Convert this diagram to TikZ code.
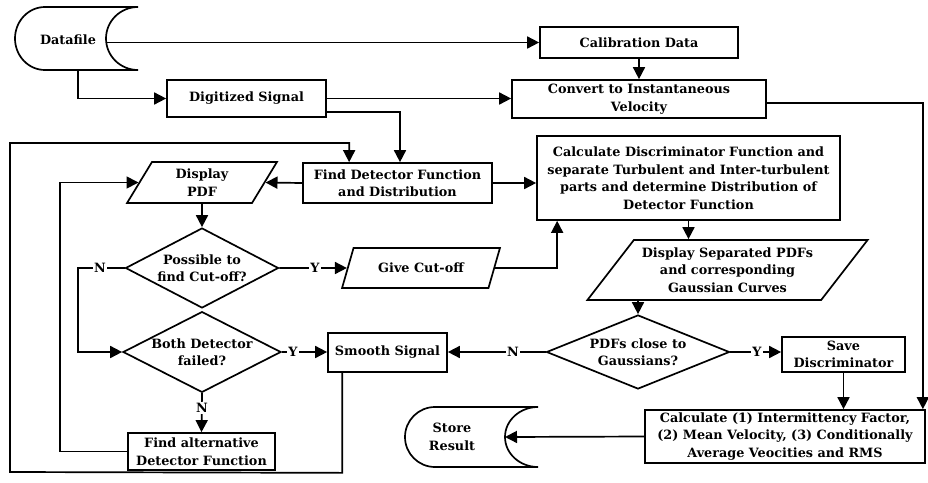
\documentclass[tikz,border=0pt]{standalone}
\usepackage{fontspec}
\setmainfont{DejaVu Serif}
\usetikzlibrary{shapes.geometric,arrows.meta,calc}
\begin{document}
\begin{tikzpicture}[x=1pt,y=-1pt,
  lw/.style={line width=1.7pt},
  txt/.style={font=\fontsize{12.8}{17.5}\selectfont\bfseries},
  box/.style={draw,lw,rectangle,align=center,inner sep=1pt,txt},
  para/.style={draw,lw,shape=trapezium,trapezium stretches=true,align=center,inner sep=1pt,txt},
  dia/.style={draw,lw,shape=diamond,align=center,inner sep=0pt,aspect=1.9,txt},
  arr/.style={lw,-{Triangle[length=12pt,width=12pt]}},
  ln/.style={lw},
  lab/.style={fill=white,inner sep=1.5pt,txt}
]
\useasboundingbox (0,0) rectangle (928,482);

% storage shapes
\draw[lw] (138,7) -- (45,7) arc[start angle=90,end angle=270,x radius=30pt,y radius=31.5pt] -- (138,70) arc[start angle=270,end angle=90,x radius=32pt,y radius=31.5pt];
\node[txt] (df) at (68,40) {Datafile};
\coordinate (dfR) at (106,42.5);
\coordinate (dfB) at (78,70);

\draw[lw] (538,407) -- (435,407) arc[start angle=90,end angle=270,x radius=30pt,y radius=30pt] -- (538,467) arc[start angle=270,end angle=90,x radius=33pt,y radius=30pt];
\node[txt,align=center] (st) at (452,437) {Store\\Result};
\coordinate (stR) at (505,437);

% boxes
\node[box,minimum width=198,minimum height=31] (cal) at (639,42.5) {Calibration Data};
\node[box,minimum width=159,minimum height=37] (dig) at (246.5,98.5) {Digitized Signal};
\node[box,minimum width=254,minimum height=38] (conv) at (639,99) {Convert to Instantaneous\\Velocity};
\node[box,minimum width=189,minimum height=40] (fdf) at (397.5,183) {Find Detector Function\\and Distribution};
\node[box,minimum width=303,minimum height=84] (calc) at (688.5,178) {Calculate Discriminator Function and\\separate Turbulent and Inter-turbulent\\parts and determine Distribution of\\Detector Function};
\node[para,trapezium left angle=65,trapezium right angle=115,minimum width=150,minimum height=41] (pdf) at (202,182.5) {Display\\PDF};
\node[dia,minimum width=153,minimum height=80] (d1) at (202,268) {Possible to\\find Cut-off?};
\node[dia,minimum width=158,minimum height=80] (d2) at (202,352) {Both Detector\\failed?};
\node[para,trapezium left angle=58,trapezium right angle=122,minimum width=158,minimum height=40] (gc) at (421,268) {Give Cut-off};
\node[para,trapezium left angle=47.5,trapezium right angle=132.5,minimum width=281,minimum height=60] (dsep) at (727.5,270) {Display Separated PDFs\\and corresponding\\Gaussian Curves};
\node[dia,aspect=2.4,minimum width=183,minimum height=74] (d3) at (638,352) {PDFs close to\\Gaussians?};
\node[box,minimum width=119,minimum height=39] (sm) at (387.5,352.5) {Smooth Signal};
\node[box,minimum width=123,minimum height=35] (save) at (843.5,354.5) {Save\\Discriminator};
\node[box,minimum width=147,minimum height=37] (alt) at (201.5,451.5) {Find alternative\\Detector Function};
\node[box,minimum width=280,minimum height=53] (fin) at (785,436.5) {Calculate (1) Intermittency Factor,\\(2) Mean Velocity, (3) Conditionally\\Average Veocities and RMS};

% connectors
\draw[arr] (dfR) -- (cal.west |- dfR);
\draw[arr] (dfB) |- (dig.west);
\draw[arr] (cal.south) -- (conv.north);
\draw[arr] (dig.east) -- (dig.east -| conv.west);
\draw[arr] ([yshift=-13.5pt]dig.east) -| ([xshift=2.5pt]fdf.north);
\draw[arr] ([xshift=15pt]sm.south west) -- ++(0,100) -- (10,472) -- (10,143) -| ([xshift=47pt]fdf.north west);
\draw[arr] (fdf.west) -- (pdf.east);
\draw[arr] (fdf.east) -- (fdf.east -| calc.west);
\draw[arr] (pdf.south) -- (d1.north);
\draw[arr] (d1.west) -- (78,268) |- (d2.west);
\node[lab] (n1) at (100,268) {N};
\draw[arr] (d1.east) -- (gc.west);
\node[lab] (y1) at (315,268) {Y};
\draw[arr] (gc.east) -| ([xshift=21pt]calc.south west);
\draw[arr] (calc.south) -- (calc.south |- dsep.north);
\draw[arr] (d3.north |- dsep.south) -- (d3.north);
\draw[arr] (d3.west) -- (sm.east |- d3.west);
\node[lab] (n3) at (513,352) {N};
\draw[arr] (d2.east) -- (sm.west |- d2.east);
\node[lab] (y2) at (293,352) {Y};
\draw[arr] (d2.south) -- (alt.north);
\node[lab] (n2) at (202,408) {N};
\draw[arr] (alt.west) -- (60,451.5) |- (pdf.west);
\draw[arr] (d3.east) -- (save.west |- d3.east);
\node[lab] (y3) at (757,352) {Y};
\draw[arr] (save.south) -- (save.south |- fin.north);
\draw[arr] ([yshift=-4pt]conv.east) -| ([xshift=-3pt]fin.north east);
\draw[arr] (fin.west) -- (stR);
\end{tikzpicture}
\end{document}
